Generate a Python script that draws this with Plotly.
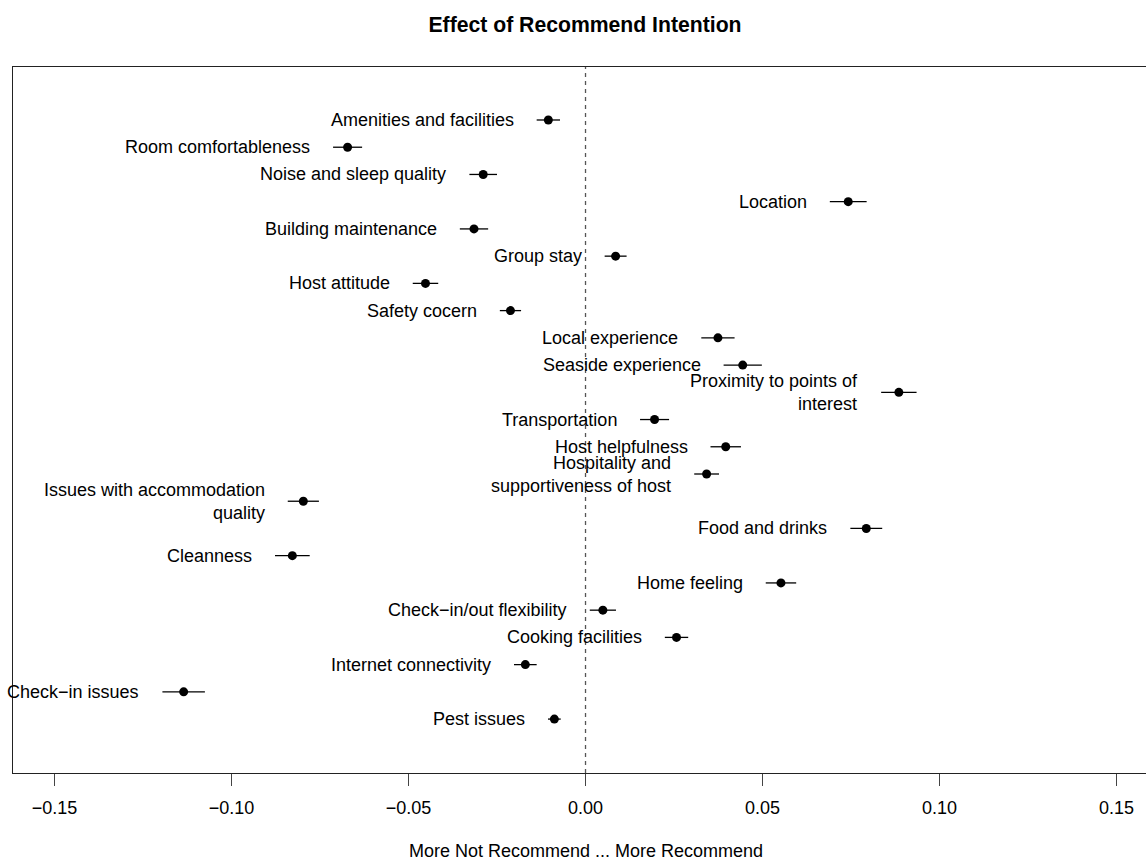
import plotly.graph_objects as go

# ---- data ----
categories = [
    "Amenities and facilities",
    "Room comfortableness",
    "Noise and sleep quality",
    "Location",
    "Building maintenance",
    "Group stay",
    "Host attitude",
    "Safety cocern",
    "Local experience",
    "Seaside experience",
    "Proximity to points of\ninterest",
    "Transportation",
    "Host helpfulness",
    "Hospitality and\nsupportiveness of host",
    "Issues with accommodation\nquality",
    "Food and drinks",
    "Cleanness",
    "Home feeling",
    "Check\u2212in/out flexibility",
    "Cooking facilities",
    "Internet connectivity",
    "Check\u2212in issues",
    "Pest issues",
]
effects = [
    -0.0105, -0.0672, -0.0289, 0.0742, -0.0315, 0.0085, -0.0452, -0.0212,
    0.0374, 0.0444, 0.0885, 0.0195, 0.0396, 0.0342, -0.0797, 0.0793,
    -0.0828, 0.0552, 0.0049, 0.0257, -0.0170, -0.1135, -0.0088,
]
errors = [
    0.0033, 0.0041, 0.0039, 0.0052, 0.0040, 0.0031, 0.0036, 0.0030,
    0.0047, 0.0054, 0.0050, 0.0041, 0.0043, 0.0035, 0.0044, 0.0045,
    0.0049, 0.0043, 0.0037, 0.0033, 0.0032, 0.0060, 0.0018,
]
tick_vals = [-0.15, -0.10, -0.05, 0.00, 0.05, 0.10, 0.15]
tick_text = ["\u22120.15", "\u22120.10", "\u22120.05", "0.00", "0.05", "0.10", "0.15"]
title_text = "Effect of Recommend Intention"
xlabel_text = "More Not Recommend ... More Recommend"

FONT = "Liberation Sans, Arial, Helvetica, sans-serif"
rows = list(range(1, len(categories) + 1))

W, H = 1146, 860

fig = go.Figure()
fig.add_trace(go.Scatter(
    x=effects, y=rows, mode="markers",
    marker=dict(color="black", size=9),
    error_x=dict(type="data", array=errors, visible=True, color="black",
                 thickness=1.3, width=0),
    showlegend=False, hoverinfo="skip",
))

# labels to the left of each interval
for lab, v, e, r in zip(categories, effects, errors, rows):
    fig.add_annotation(
        x=v - e, y=r, xref="x", yref="y", text=lab.replace("\n", "<br>"),
        showarrow=False, xanchor="right", yanchor="middle", align="right",
        xshift=-21, font=dict(family=FONT, size=18, color="black"),
    )

# dashed zero line
fig.add_shape(type="line", x0=0, x1=0, y0=0, y1=1, xref="x", yref="paper",
              line=dict(color="#555555", width=1.3, dash="4px,4px"))

fig.add_annotation(x=0, y=0, xref="x", yref="paper", yshift=-78,
                   text=xlabel_text, showarrow=False, yanchor="middle",
                   font=dict(family=FONT, size=18, color="black"))

fig.update_layout(
    width=W, height=H,
    margin=dict(l=13, r=0, t=67, b=87),
    paper_bgcolor="white", plot_bgcolor="white",
    font=dict(family=FONT, size=18, color="black"),
    title=dict(text="<b>" + title_text + "</b>", x=585 / W, xanchor="center",
               y=1 - 25 / H, yanchor="middle", yref="container",
               font=dict(family=FONT, size=21.2, color="black")),
    xaxis=dict(range=[-0.1617, 0.1583], tickvals=tick_vals, ticktext=tick_text,
               showgrid=False, zeroline=False, showline=True, linecolor="#222222",
               linewidth=1.3, mirror=True, ticks="outside", ticklen=12,
               tickwidth=1, tickcolor="#444444", ticklabelstandoff=6,
               tickfont=dict(family=FONT, size=18, color="black")),
    yaxis=dict(range=[24.98, -0.946], showticklabels=False, showgrid=False,
               zeroline=False, showline=True, linecolor="#222222", linewidth=1.3,
               ticks=""),
)

fig.write_html(
    "out.html",
    config={"displayModeBar": False},
    post_script="document.body.style.margin='0';document.body.style.overflow='hidden';",
)
